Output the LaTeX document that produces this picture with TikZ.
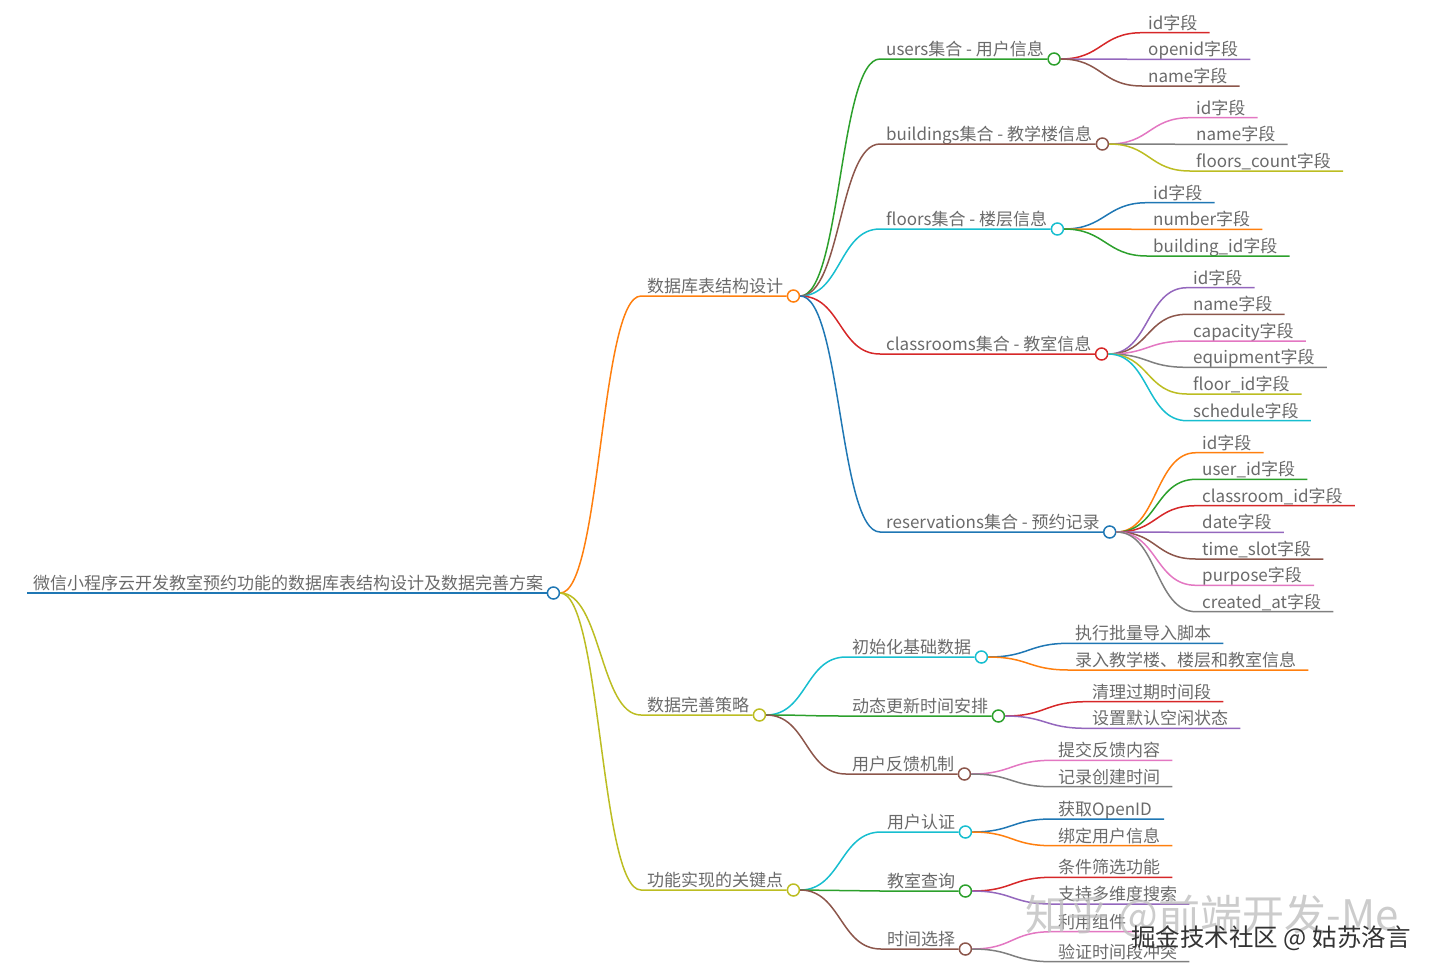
\documentclass[tikz,border=0pt]{standalone}
\usepackage{fontspec}
\setmainfont{Noto Sans CJK SC}
\definecolor{txt}{HTML}{6A6A6A}
\definecolor{cBlue}{HTML}{1F77B4}
\definecolor{cOrange}{HTML}{FF7F0E}
\definecolor{cGreen}{HTML}{2CA02C}
\definecolor{cRed}{HTML}{D62728}
\definecolor{cPurple}{HTML}{9467BD}
\definecolor{cBrown}{HTML}{8C564B}
\definecolor{cPink}{HTML}{E377C2}
\definecolor{cGray}{HTML}{7F7F7F}
\definecolor{cOlive}{HTML}{BCBD22}
\definecolor{cCyan}{HTML}{17BECF}
\tikzset{
  wire/.style={to path={.. controls +(41,0) and +(-41,0) .. (\tikztotarget)}},
}
\begin{document}
\begin{tikzpicture}[x=1pt,y=-1pt,
    every node/.style={font=\fontsize{17}{20}\selectfont, text=txt},
    topic/.style={anchor=south west, inner xsep=6pt, inner ysep=1pt, text height=13pt, text depth=2.5pt},
    knob/.style={circle, draw=#1, fill=white, line width=1.5pt, minimum size=12pt, inner sep=0pt},
    link/.style={draw=#1, line width=1.5pt}]
    \useasboundingbox (0,0) rectangle (1440,978);
    % root
    \node[topic] (root) at (27,593) {微信小程序云开发教室预约功能的数据库表结构设计及数据完善方案};
    \node[knob=cBlue] (rootk) at ([xshift=4pt]root.south east) {};
    \draw[link=cBlue] (root.south west) -- (rootk.west);
    % first level
    \node[topic] (db) at (641,296) {数据库表结构设计};
    \node[knob=cOrange] (dbk) at ([xshift=4pt]db.south east) {};
    \draw[link=cOrange] (rootk.east) to[wire] (db.south west) -- (dbk.west);
    \node[topic] (pl) at (641,715) {数据完善策略};
    \node[knob=cOlive] (plk) at ([xshift=4pt]pl.south east) {};
    \draw[link=cOlive] (rootk.east) to[wire] (pl.south west) -- (plk.west);
    \node[topic] (fn) at (641,890) {功能实现的关键点};
    \node[knob=cOlive] (fnk) at ([xshift=4pt]fn.south east) {};
    \draw[link=cOlive] (rootk.east) to[wire] (fn.south west) -- (fnk.west);
    % collections
    \node[topic] (us) at (880,59) {users集合 - 用户信息};
    \node[knob=cGreen] (usk) at ([xshift=4pt]us.south east) {};
    \draw[link=cGreen] (dbk.east) to[wire] (us.south west) -- (usk.west);
    \node[topic] (bd) at (880,144) {buildings集合 - 教学楼信息};
    \node[knob=cBrown] (bdk) at ([xshift=4pt]bd.south east) {};
    \draw[link=cBrown] (dbk.east) to[wire] (bd.south west) -- (bdk.west);
    \node[topic] (fl) at (880,229) {floors集合 - 楼层信息};
    \node[knob=cCyan] (flk) at ([xshift=4pt]fl.south east) {};
    \draw[link=cCyan] (dbk.east) to[wire] (fl.south west) -- (flk.west);
    \node[topic] (cr) at (880,354) {classrooms集合 - 教室信息};
    \node[knob=cRed] (crk) at ([xshift=4pt]cr.south east) {};
    \draw[link=cRed] (dbk.east) to[wire] (cr.south west) -- (crk.west);
    \node[topic] (rv) at (880,532) {reservations集合 - 预约记录};
    \node[knob=cBlue] (rvk) at ([xshift=4pt]rv.south east) {};
    \draw[link=cBlue] (dbk.east) to[wire] (rv.south west) -- (rvk.west);
    % strategy
    \node[topic] (in) at (846,657) {初始化基础数据};
    \node[knob=cCyan] (ink) at ([xshift=4pt]in.south east) {};
    \draw[link=cCyan] (plk.east) to[wire] (in.south west) -- (ink.west);
    \node[topic] (dy) at (846,716) {动态更新时间安排};
    \node[knob=cGreen] (dyk) at ([xshift=4pt]dy.south east) {};
    \draw[link=cGreen] (plk.east) to[wire] (dy.south west) -- (dyk.west);
    \node[topic] (fb) at (846,774) {用户反馈机制};
    \node[knob=cBrown] (fbk) at ([xshift=4pt]fb.south east) {};
    \draw[link=cBrown] (plk.east) to[wire] (fb.south west) -- (fbk.west);
    % key points
    \node[topic] (au) at (881,832) {用户认证};
    \node[knob=cCyan] (auk) at ([xshift=4pt]au.south east) {};
    \draw[link=cCyan] (fnk.east) to[wire] (au.south west) -- (auk.west);
    \node[topic] (qr) at (881,891) {教室查询};
    \node[knob=cGreen] (qrk) at ([xshift=4pt]qr.south east) {};
    \draw[link=cGreen] (fnk.east) to[wire] (qr.south west) -- (qrk.west);
    \node[topic] (tm) at (881,949) {时间选择};
    \node[knob=cBrown] (tmk) at ([xshift=4pt]tm.south east) {};
    \draw[link=cBrown] (fnk.east) to[wire] (tm.south west) -- (tmk.west);
    % users fields
    \node[topic] (us1) at (1142,32.7) {id字段};
    \draw[link=cRed] (usk.east) to[wire] (us1.south west) -- ([xshift=6pt]us1.south east);
    \node[topic] (us2) at (1142,59.3) {openid字段};
    \draw[link=cPurple] (usk.east) to[wire] (us2.south west) -- ([xshift=6pt]us2.south east);
    \node[topic] (us3) at (1142,86) {name字段};
    \draw[link=cBrown] (usk.east) to[wire] (us3.south west) -- ([xshift=6pt]us3.south east);
    % buildings fields
    \node[topic] (bd1) at (1190,117.7) {id字段};
    \draw[link=cPink] (bdk.east) to[wire] (bd1.south west) -- ([xshift=6pt]bd1.south east);
    \node[topic] (bd2) at (1190,144.3) {name字段};
    \draw[link=cGray] (bdk.east) to[wire] (bd2.south west) -- ([xshift=6pt]bd2.south east);
    \node[topic] (bd3) at (1190,171) {floors\_count字段};
    \draw[link=cOlive] (bdk.east) to[wire] (bd3.south west) -- ([xshift=6pt]bd3.south east);
    % floors fields
    \node[topic] (fl1) at (1147,202.7) {id字段};
    \draw[link=cBlue] (flk.east) to[wire] (fl1.south west) -- ([xshift=6pt]fl1.south east);
    \node[topic] (fl2) at (1147,229.3) {number字段};
    \draw[link=cOrange] (flk.east) to[wire] (fl2.south west) -- ([xshift=6pt]fl2.south east);
    \node[topic] (fl3) at (1147,256) {building\_id字段};
    \draw[link=cGreen] (flk.east) to[wire] (fl3.south west) -- ([xshift=6pt]fl3.south east);
    % classrooms fields
    \node[topic] (cr1) at (1187,287.7) {id字段};
    \draw[link=cPurple] (crk.east) to[wire] (cr1.south west) -- ([xshift=6pt]cr1.south east);
    \node[topic] (cr2) at (1187,314.3) {name字段};
    \draw[link=cBrown] (crk.east) to[wire] (cr2.south west) -- ([xshift=6pt]cr2.south east);
    \node[topic] (cr3) at (1187,341) {capacity字段};
    \draw[link=cPink] (crk.east) to[wire] (cr3.south west) -- ([xshift=6pt]cr3.south east);
    \node[topic] (cr4) at (1187,367.3) {equipment字段};
    \draw[link=cGray] (crk.east) to[wire] (cr4.south west) -- ([xshift=6pt]cr4.south east);
    \node[topic] (cr5) at (1187,394) {floor\_id字段};
    \draw[link=cOlive] (crk.east) to[wire] (cr5.south west) -- ([xshift=6pt]cr5.south east);
    \node[topic] (cr6) at (1187,420.7) {schedule字段};
    \draw[link=cCyan] (crk.east) to[wire] (cr6.south west) -- ([xshift=6pt]cr6.south east);
    % reservations fields
    \node[topic] (rv1) at (1196,452.7) {id字段};
    \draw[link=cOrange] (rvk.east) to[wire] (rv1.south west) -- ([xshift=6pt]rv1.south east);
    \node[topic] (rv2) at (1196,479.3) {user\_id字段};
    \draw[link=cGreen] (rvk.east) to[wire] (rv2.south west) -- ([xshift=6pt]rv2.south east);
    \node[topic] (rv3) at (1196,505.7) {classroom\_id字段};
    \draw[link=cRed] (rvk.east) to[wire] (rv3.south west) -- ([xshift=6pt]rv3.south east);
    \node[topic] (rv4) at (1196,532.3) {date字段};
    \draw[link=cPurple] (rvk.east) to[wire] (rv4.south west) -- ([xshift=6pt]rv4.south east);
    \node[topic] (rv5) at (1196,559) {time\_slot字段};
    \draw[link=cBrown] (rvk.east) to[wire] (rv5.south west) -- ([xshift=6pt]rv5.south east);
    \node[topic] (rv6) at (1196,585.3) {purpose字段};
    \draw[link=cPink] (rvk.east) to[wire] (rv6.south west) -- ([xshift=6pt]rv6.south east);
    \node[topic] (rv7) at (1196,611.7) {created\_at字段};
    \draw[link=cGray] (rvk.east) to[wire] (rv7.south west) -- ([xshift=6pt]rv7.south east);
    % strategy leaves
    \node[topic] (in1) at (1069,643.3) {执行批量导入脚本};
    \draw[link=cBlue] (ink.east) to[wire] (in1.south west) -- ([xshift=6pt]in1.south east);
    \node[topic] (in2) at (1069,670) {录入教学楼、楼层和教室信息};
    \draw[link=cOrange] (ink.east) to[wire] (in2.south west) -- ([xshift=6pt]in2.south east);
    \node[topic] (dy1) at (1086,701.7) {清理过期时间段};
    \draw[link=cRed] (dyk.east) to[wire] (dy1.south west) -- ([xshift=6pt]dy1.south east);
    \node[topic] (dy2) at (1086,728.3) {设置默认空闲状态};
    \draw[link=cPurple] (dyk.east) to[wire] (dy2.south west) -- ([xshift=6pt]dy2.south east);
    \node[topic] (fb1) at (1052,760.3) {提交反馈内容};
    \draw[link=cPink] (fbk.east) to[wire] (fb1.south west) -- ([xshift=6pt]fb1.south east);
    \node[topic] (fb2) at (1052,786.7) {记录创建时间};
    \draw[link=cGray] (fbk.east) to[wire] (fb2.south west) -- ([xshift=6pt]fb2.south east);
    % key point leaves
    \node[topic] (au1) at (1052,819) {获取OpenID};
    \draw[link=cBlue] (auk.east) to[wire] (au1.south west) -- ([xshift=6pt]au1.south east);
    \node[topic] (au2) at (1052,845.7) {绑定用户信息};
    \draw[link=cOrange] (auk.east) to[wire] (au2.south west) -- ([xshift=6pt]au2.south east);
    \node[topic] (qr1) at (1052,877.3) {条件筛选功能};
    \draw[link=cRed] (qrk.east) to[wire] (qr1.south west) -- ([xshift=6pt]qr1.south east);
    \node[topic] (qr2) at (1052,904) {支持多维度搜索};
    \draw[link=cPurple] (qrk.east) to[wire] (qr2.south west) -- ([xshift=6pt]qr2.south east);
    \node[topic] (tm1) at (1052,931.7) {利用组件};
    \draw[link=cPink] (tmk.east) to[wire] (tm1.south west) -- ([xshift=6pt]tm1.south east);
    \node[topic] (tm2) at (1052,961.7) {验证时间段冲突};
    \draw[link=cGray] (tmk.east) to[wire] (tm2.south west) -- ([xshift=6pt]tm2.south east);
    % watermarks
    \node[font=\fontsize{42}{46}\selectfont, text=black!25, opacity=0.8] (wm1) at (1212,916) {知乎 @前端开发-Me};
    \node[font=\fontsize{24.5}{28}\selectfont, text=black!80] (wm2) at (1271,938) {掘金技术社区 @ 姑苏洛言};
\end{tikzpicture}
\end{document}
